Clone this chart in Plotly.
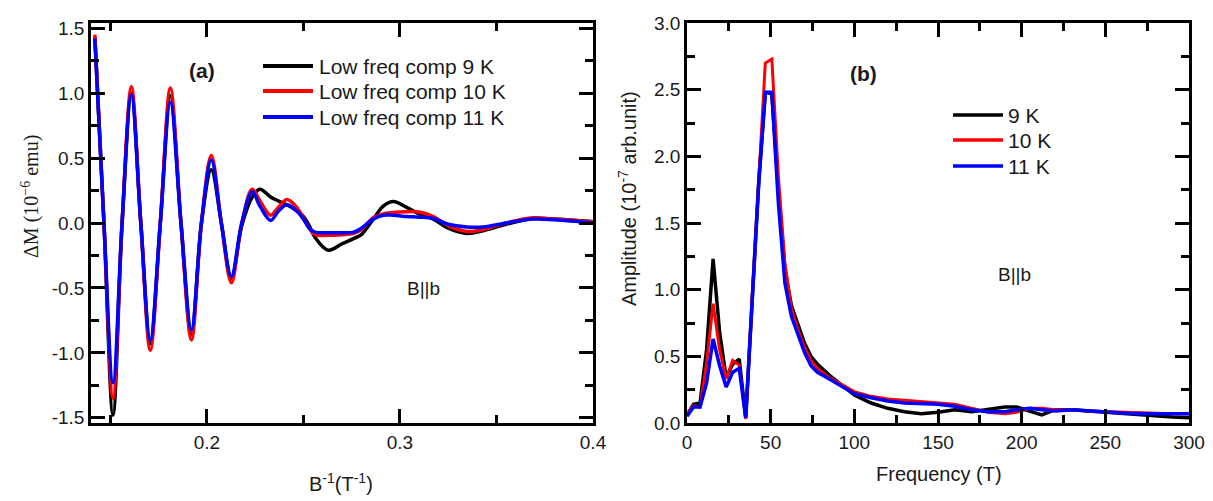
import plotly.graph_objects as go

# ---------------- Panel (a): low-frequency component vs inverse field ----------------
inv_b = [0.1420, 0.1467, 0.1514, 0.1561, 0.1609, 0.1658, 0.1707, 0.1759, 0.1811, 0.1866,
         0.1920, 0.1972, 0.2023, 0.2075, 0.2127, 0.2181, 0.2235, 0.2275, 0.2330, 0.2370,
         0.2414, 0.2460, 0.2500, 0.2530, 0.2560, 0.2629, 0.2700, 0.2760, 0.2800, 0.2862,
         0.2914, 0.2966, 0.3035, 0.3100, 0.3173, 0.3250, 0.3346, 0.3432, 0.3550, 0.3690,
         0.3800, 0.4000]
dm_9k = [1.43, 0.0, -1.48, 0.0, 1.00, 0.0, -0.93, 0.0, 0.98, 0.0,
         -0.86, 0.0, 0.41, 0.0, -0.43, -0.02, 0.20, 0.26, 0.20, 0.17,
         0.14, 0.10, 0.05, -0.02, -0.11, -0.21, -0.16, -0.12, -0.09, 0.03,
         0.13, 0.165, 0.12, 0.07, 0.03, -0.04, -0.08, -0.06, -0.01, 0.035,
         0.03, 0.01]
dm_10k = [1.45, 0.0, -1.35, 0.0, 1.05, 0.0, -0.98, 0.0, 1.04, 0.0,
          -0.90, 0.0, 0.52, 0.0, -0.46, 0.0, 0.26, 0.17, 0.06, 0.12,
          0.18, 0.13, 0.04, -0.04, -0.09, -0.095, -0.09, -0.08, -0.05, 0.04,
          0.07, 0.08, 0.087, 0.085, 0.05, -0.02, -0.065, -0.05, 0.0, 0.04,
          0.03, 0.01]
dm_11k = [1.42, 0.0, -1.23, 0.0, 0.985, 0.0, -0.90, 0.0, 0.93, 0.0,
          -0.82, 0.0, 0.485, 0.0, -0.41, 0.0, 0.24, 0.13, 0.02, 0.09,
          0.14, 0.10, 0.03, -0.04, -0.07, -0.075, -0.075, -0.07, -0.04, 0.03,
          0.06, 0.06, 0.05, 0.045, 0.035, -0.01, -0.03, -0.03, 0.0, 0.03,
          0.025, 0.0]
names_a = ["Low freq comp 9 K", "Low freq comp 10 K", "Low freq comp 11 K"]

# ---------------- Panel (b): FFT amplitude vs frequency ----------------
freq = [0, 3.9, 7.8, 11.7, 15.6, 19.5, 23.4, 27.3, 31.2, 35.1,
        39.0, 42.9, 46.8, 50.7, 54.6, 58.5, 62.4, 66.3, 70.2, 74.1,
        78.0, 85, 92, 100, 110, 120, 130, 140, 150, 160,
        170, 180, 190, 197, 205, 212, 220, 230, 240, 250,
        260, 270, 280, 290, 300]
amp_9k = [0.06, 0.14, 0.15, 0.55, 1.23, 0.68, 0.34, 0.44, 0.48, 0.04,
          0.93, 1.82, 2.48, 2.47, 1.75, 1.15, 0.88, 0.73, 0.60, 0.50,
          0.44, 0.36, 0.29, 0.21, 0.15, 0.11, 0.085, 0.07, 0.08, 0.10,
          0.085, 0.10, 0.12, 0.12, 0.09, 0.06, 0.10, 0.10, 0.09, 0.08,
          0.07, 0.06, 0.05, 0.045, 0.04]
amp_10k = [0.07, 0.13, 0.12, 0.45, 0.895, 0.55, 0.33, 0.47, 0.435, 0.03,
           0.95, 1.85, 2.70, 2.73, 1.85, 1.20, 0.86, 0.70, 0.57, 0.47,
           0.41, 0.34, 0.29, 0.235, 0.20, 0.18, 0.17, 0.16, 0.15, 0.14,
           0.11, 0.08, 0.07, 0.08, 0.11, 0.11, 0.10, 0.10, 0.09, 0.085,
           0.08, 0.075, 0.07, 0.07, 0.07]
amp_11k = [0.05, 0.12, 0.12, 0.30, 0.63, 0.43, 0.27, 0.38, 0.41, 0.04,
           0.93, 1.80, 2.48, 2.48, 1.65, 1.05, 0.80, 0.66, 0.53, 0.43,
           0.38, 0.33, 0.28, 0.22, 0.19, 0.165, 0.15, 0.145, 0.14, 0.125,
           0.10, 0.085, 0.085, 0.10, 0.11, 0.10, 0.09, 0.10, 0.09, 0.085,
           0.075, 0.07, 0.07, 0.07, 0.07]
names_b = ["9 K", "10 K", "11 K"]

colors = ["#000000", "#ff0000", "#0000ff"]

# tick labels
ytick_a_vals = [-1.5, -1.0, -0.5, 0.0, 0.5, 1.0, 1.5]
ytick_a_text = ["-1.5", "-1.0", "-0.5", "0.0", "0.5", "1.0", "1.5"]
xtick_a_vals = [0.2, 0.3, 0.4]
xtick_a_text = ["0.2", "0.3", "0.4"]

FONT = "Arial, Liberation Sans, sans-serif"
TXT = "#1a1a1a"

fig = go.Figure()

for ys, nm, c in zip([dm_9k, dm_10k, dm_11k], names_a, colors):
    fig.add_trace(go.Scatter(x=inv_b, y=ys, name=nm, mode="lines", showlegend=False,
                             line=dict(color=c, width=3.5, shape="spline", smoothing=1.0),
                             xaxis="x", yaxis="y"))

for ys, nm, c, w in zip([amp_9k, amp_10k, amp_11k], names_b, colors, [3.5, 3.0, 3.5]):
    fig.add_trace(go.Scatter(x=freq, y=ys, name=nm, mode="lines", showlegend=False,
                             line=dict(color=c, width=w),
                             xaxis="x2", yaxis="y2"))

# page offset (browser body margin)
OFF = 8
W, H = 1213 - OFF, 501 - OFF
# plot-area edges in page pixels
PL, PR, PT, PB = 91, 1189, 23, 423
L, R, T, B = PL - OFF, (W + OFF) - PR, PT - OFF, (H + OFF) - PB
pw = PR - PL
ph = PB - PT
d1 = (593 - PL) / pw
d2 = (687 - PL) / pw


def px2x(p):
    return (p - PL) / pw


def py2y(p):
    return (PB - p) / ph


axis_common = dict(showline=True, linecolor="black", linewidth=2.5, mirror="ticks",
                   ticks="inside", ticklen=14, tickwidth=2.5, tickcolor="black",
                   showgrid=False, zeroline=False, automargin=False,
                   tickfont=dict(family=FONT, size=19, color=TXT))
minor_common = dict(ticks="inside", ticklen=8, tickwidth=2.5, tickcolor="black", showgrid=False)

fig.update_layout(
    width=W, height=H,
    margin=dict(l=L, r=R, t=T, b=B),
    paper_bgcolor="white", plot_bgcolor="white",
    font=dict(family=FONT, color="black"),
    showlegend=False,
    xaxis=dict(domain=[0, d1], range=[0.14, 0.4], tickvals=xtick_a_vals, ticktext=xtick_a_text,
               minor=dict(tickvals=[0.15, 0.25, 0.35], **minor_common), anchor="y", **axis_common),
    yaxis=dict(domain=[0, 1], range=[-1.54, 1.54], tickvals=ytick_a_vals, ticktext=ytick_a_text,
               minor=dict(dtick=0.25, tick0=0, **minor_common), anchor="x", **axis_common),
    xaxis2=dict(domain=[d2, 1], range=[0, 300], dtick=50, tick0=0,
                minor=dict(dtick=25, tick0=0, **minor_common), anchor="y2", **axis_common),
    yaxis2=dict(domain=[0, 1], range=[0, 3], dtick=0.5, tick0=0, tickformat=".1f",
                minor=dict(dtick=0.25, tick0=0, **minor_common), anchor="x2", **axis_common),
)

# legends (drawn keys: line sample + label)
shapes = []
ann = []
leg_a_rows = [66, 91, 117]
leg_b_rows = [115, 140, 166]
for nm, c, yy in zip(names_a, colors, leg_a_rows):
    shapes.append(dict(type="line", xref="paper", yref="paper",
                       x0=px2x(263), x1=px2x(313), y0=py2y(yy), y1=py2y(yy),
                       line=dict(color=c, width=4)))
    ann.append(dict(text=nm, x=px2x(317), y=py2y(yy), xref="paper", yref="paper",
                    xanchor="left", font=dict(size=21)))
for nm, c, yy in zip(names_b, colors, leg_b_rows):
    shapes.append(dict(type="line", xref="paper", yref="paper",
                       x0=px2x(953), x1=px2x(1003), y0=py2y(yy), y1=py2y(yy),
                       line=dict(color=c, width=3.5)))
    ann.append(dict(text=nm, x=px2x(1006), y=py2y(yy), xref="paper", yref="paper",
                    xanchor="left", font=dict(size=21)))

ann += [
    dict(text="<b>(a)</b>", x=0.1975, y=1.177, xref="x", yref="y", font=dict(size=21)),
    dict(text="B||b", x=0.312, y=-0.508, xref="x", yref="y", font=dict(size=19)),
    dict(text="<b>(b)</b>", x=105.2, y=2.625, xref="x2", yref="y2", font=dict(size=21)),
    dict(text="B||b", x=196, y=1.117, xref="x2", yref="y2", font=dict(size=19)),
    dict(text="B<sup>-1</sup>(T<sup>-1</sup>)", x=px2x(341), y=py2y(483),
         xref="paper", yref="paper", font=dict(size=20)),
    dict(text="Frequency (T)", x=px2x(939), y=py2y(474),
         xref="paper", yref="paper", font=dict(size=20)),
    dict(text="ΔM (10<sup>−6</sup> emu)", x=px2x(30), y=py2y(197), textangle=-90,
         xref="paper", yref="paper", font=dict(size=20, family="Liberation Serif, Times New Roman, serif")),
    dict(text="Amplitude (10<sup>-7</sup> arb.unit)", x=px2x(628), y=py2y(199), textangle=-90,
         xref="paper", yref="paper", font=dict(size=20)),
]
for a in ann:
    a.setdefault("showarrow", False)
    a["font"].setdefault("family", FONT)
    a["font"].setdefault("color", TXT)
    a.setdefault("xanchor", "center")
    a["yanchor"] = "middle"
fig.update_layout(annotations=ann, shapes=shapes)

fig.write_html("out.html")
